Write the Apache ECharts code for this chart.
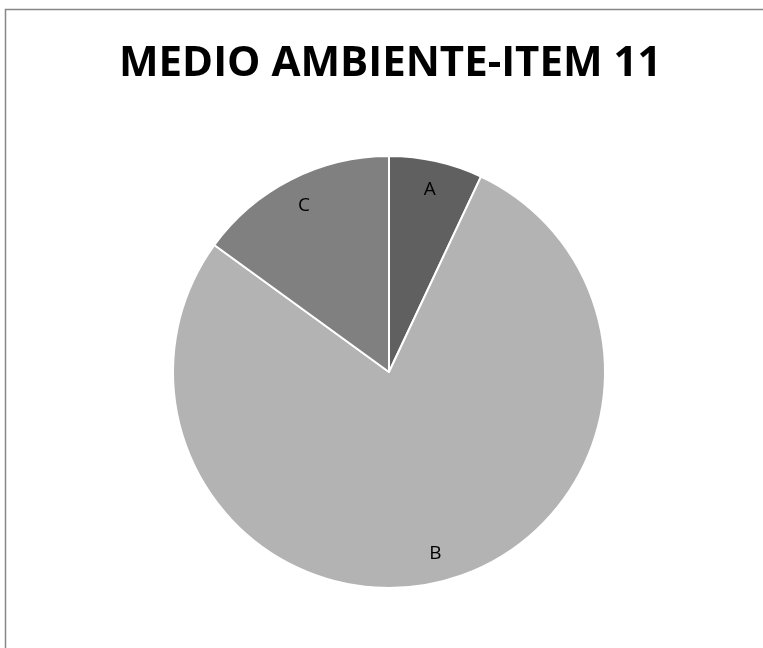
<!DOCTYPE html>
<html><head><meta charset="utf-8">
<script src="https://cdn.jsdelivr.net/npm/echarts@6/dist/echarts.min.js"></script>
<style>html,body{margin:0;padding:0;background:#fff}#c{width:763px;height:648px}</style>
</head><body><div id="c"></div>
<script>
const title = 'MEDIO AMBIENTE-ITEM 11';
const categories = ['A', 'B', 'C'];
const values = [7, 78, 15];
const colors = ['#606060', '#b3b3b3', '#808080'];

const chart = echarts.init(document.getElementById('c'), null, {renderer: 'canvas'});
const data = categories.map((c, i) => ({name: c, value: values[i], itemStyle: {color: colors[i]}}));
const labelData = categories.map((c, i) => ({name: c, value: values[i]}));
chart.setOption({
  animation: false,
  backgroundColor: '#fff',
  title: {
    text: title, left: 114, top: 38,
    textStyle: {fontFamily: 'Open Sans', fontWeight: 'bold', fontSize: 42, color: '#000'}
  },
  graphic: [{
    type: 'rect', shape: {x: 5.5, y: 9.5, width: 800, height: 700},
    style: {fill: 'none', stroke: '#878787', lineWidth: 1.5}, silent: true
  }],
  series: [{
    type: 'pie', center: [389, 372], radius: 216, startAngle: 90, clockwise: true,
    label: {show: false}, labelLine: {show: false},
    itemStyle: {borderColor: '#fff', borderWidth: 2},
    data: data, silent: true
  }, {
    type: 'pie', center: [389, 372], radius: [152, 216], startAngle: 90, clockwise: true,
    itemStyle: {color: 'rgba(0,0,0,0)'},
    label: {
      show: true, position: 'inside', formatter: '{t|{b}}',
      rich: {t: {fontSize: 19, color: '#000', fontFamily: 'Open Sans'}}
    },
    labelLine: {show: false},
    data: labelData, silent: true
  }]
});
</script></body></html>
